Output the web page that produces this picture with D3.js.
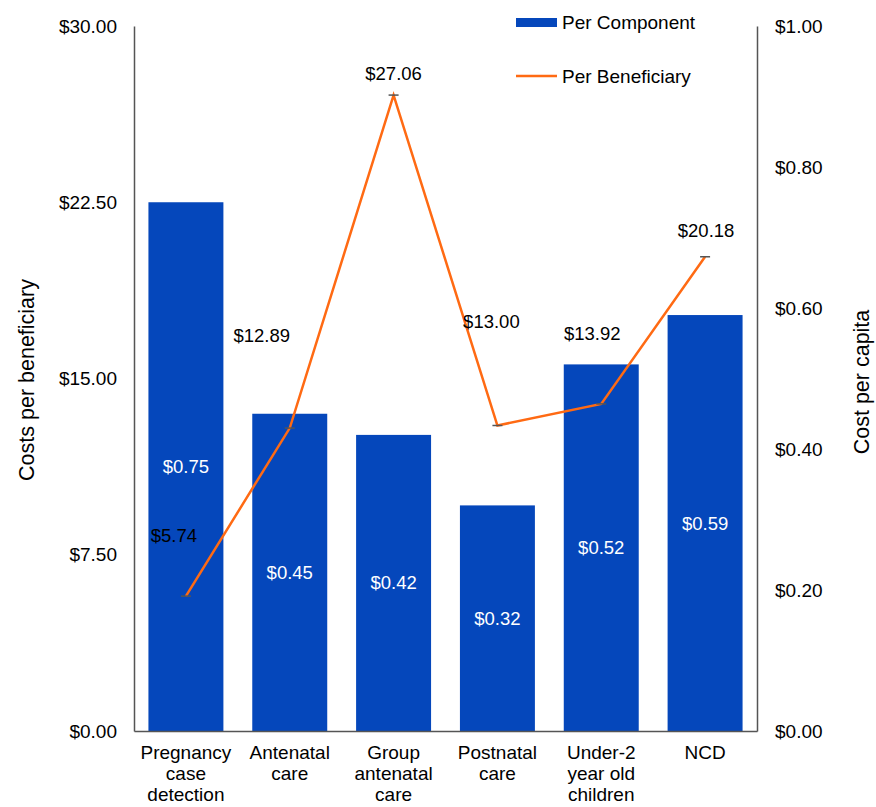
<!DOCTYPE html>
<html>
<head>
<meta charset="utf-8">
<script src="https://cdn.jsdelivr.net/npm/d3@7/dist/d3.min.js"></script>
<style>
  html, body { margin: 0; padding: 0; background: #fff; }
  svg { display: block; font-family: "Liberation Sans", Arial, Helvetica, sans-serif; }
</style>
</head>
<body>
<script>
// ---- data ----
const categories = [
  ["Pregnancy", "case", "detection"],
  ["Antenatal", "care"],
  ["Group", "antenatal", "care"],
  ["Postnatal", "care"],
  ["Under-2", "year old", "children"],
  ["NCD"]
];
const perComponent = [0.75, 0.45, 0.42, 0.32, 0.52, 0.59];      // right axis (cost per capita)
const perBeneficiary = [5.74, 12.89, 27.06, 13.00, 13.92, 20.18]; // left axis (costs per beneficiary)
const leftTicks = [0, 7.5, 15, 22.5, 30];
const rightTicks = [0, 0.2, 0.4, 0.6, 0.8, 1.0];
const seriesNames = ["Per Component", "Per Beneficiary"];
// manual label placement (pixel offsets from each line point)
const lineLabelOffsets = [[-12, -61], [-28, -93], [0, -22], [-6, -104], [-9, -70], [1, -26]];

// ---- layout ----
const W = 876, H = 807;
const plot = { left: 134, right: 757, top: 26, bottom: 731 };
const barColor = "#0547bb";
const lineColor = "#ff6a13";
const axisColor = "#555";

const svg = d3.select("body").append("svg").attr("width", W).attr("height", H);

const x = d3.scaleBand()
  .domain(d3.range(categories.length))
  .range([plot.left, plot.right])
  .paddingInner(0.278)
  .paddingOuter(0.139);
const yL = d3.scaleLinear().domain([0, 30]).range([plot.bottom, plot.top]);
const yR = d3.scaleLinear().domain([0, 1]).range([plot.bottom, plot.top]);

const fmt2 = d3.format("$.2f");

// bars
svg.append("g").selectAll("rect")
  .data(perComponent)
  .join("rect")
  .attr("x", (d, i) => x(i))
  .attr("y", d => yR(d))
  .attr("width", x.bandwidth())
  .attr("height", d => yR(0) - yR(d))
  .attr("fill", barColor);

// bar labels
svg.append("g").selectAll("text")
  .data(perComponent)
  .join("text")
  .attr("x", (d, i) => x(i) + x.bandwidth() / 2)
  .attr("y", d => (yR(d) + yR(0)) / 2)
  .attr("dy", "0.35em")
  .attr("text-anchor", "middle")
  .attr("fill", "#fff")
  .attr("font-size", 18.5)
  .text(d => fmt2(d));

// axes
const axL = d3.axisLeft(yL).tickValues(leftTicks).tickSize(0).tickPadding(17).tickFormat(fmt2);
const axR = d3.axisRight(yR).tickValues(rightTicks).tickSize(0).tickPadding(18).tickFormat(fmt2);
const axB = d3.axisBottom(x).tickSize(0).tickFormat(() => "");

const gL = svg.append("g").attr("transform", `translate(${plot.left},0)`).call(axL);
const gR = svg.append("g").attr("transform", `translate(${plot.right},0)`).call(axR);
const gB = svg.append("g").attr("transform", `translate(0,${plot.bottom})`).call(axB);
[gL, gR, gB].forEach(g => {
  g.select(".domain").attr("stroke", axisColor).attr("stroke-width", 1.5);
  g.selectAll("text").attr("font-size", 19).attr("fill", "#000")
    .attr("font-family", "'Liberation Sans', Arial, sans-serif");
});

// category labels
const catG = svg.append("g");
categories.forEach((lines, i) => {
  const t = catG.append("text")
    .attr("x", x(i) + x.bandwidth() / 2)
    .attr("y", 759)
    .attr("text-anchor", "middle")
    .attr("font-size", 19)
    .attr("fill", "#000");
  lines.forEach((ln, j) => {
    t.append("tspan").attr("x", x(i) + x.bandwidth() / 2).attr("dy", j === 0 ? 0 : 21).text(ln);
  });
});

// line
const cx = i => x(i) + x.bandwidth() / 2;
svg.append("path")
  .datum(perBeneficiary)
  .attr("fill", "none")
  .attr("stroke", lineColor)
  .attr("stroke-width", 2.5)
  .attr("d", d3.line().x((d, i) => cx(i)).y(d => yL(d)));

// markers (short dash)
svg.append("g").selectAll("line")
  .data(perBeneficiary)
  .join("line")
  .attr("x1", (d, i) => cx(i) - 5)
  .attr("x2", (d, i) => cx(i) + 5)
  .attr("y1", d => yL(d))
  .attr("y2", d => yL(d))
  .attr("stroke", "#555")
  .attr("stroke-width", 1.5);

// line labels
svg.append("g").selectAll("text")
  .data(perBeneficiary)
  .join("text")
  .attr("x", (d, i) => cx(i) + lineLabelOffsets[i][0])
  .attr("y", (d, i) => yL(d) + lineLabelOffsets[i][1])
  .attr("dy", "0.35em")
  .attr("text-anchor", "middle")
  .attr("font-size", 18.5)
  .attr("fill", "#000")
  .text(d => fmt2(d));

// axis titles
svg.append("text")
  .attr("transform", "translate(34,380) rotate(-90)")
  .attr("text-anchor", "middle")
  .attr("font-size", 21.5)
  .attr("fill", "#000")
  .text("Costs per beneficiary");
svg.append("text")
  .attr("transform", "translate(869,382) rotate(-90)")
  .attr("text-anchor", "middle")
  .attr("font-size", 21.5)
  .attr("fill", "#000")
  .text("Cost per capita");

// legend
const lg = svg.append("g");
lg.append("rect").attr("x", 516).attr("y", 18).attr("width", 41).attr("height", 9).attr("fill", barColor);
lg.append("text").attr("x", 562).attr("y", 22).attr("dy", "0.35em").attr("font-size", 19).attr("fill", "#000").text(seriesNames[0]);
lg.append("line").attr("x1", 516).attr("x2", 557).attr("y1", 76).attr("y2", 76).attr("stroke", lineColor).attr("stroke-width", 2.5);
lg.append("text").attr("x", 562).attr("y", 76).attr("dy", "0.35em").attr("font-size", 19).attr("fill", "#000").text(seriesNames[1]);
</script>
</body>
</html>
